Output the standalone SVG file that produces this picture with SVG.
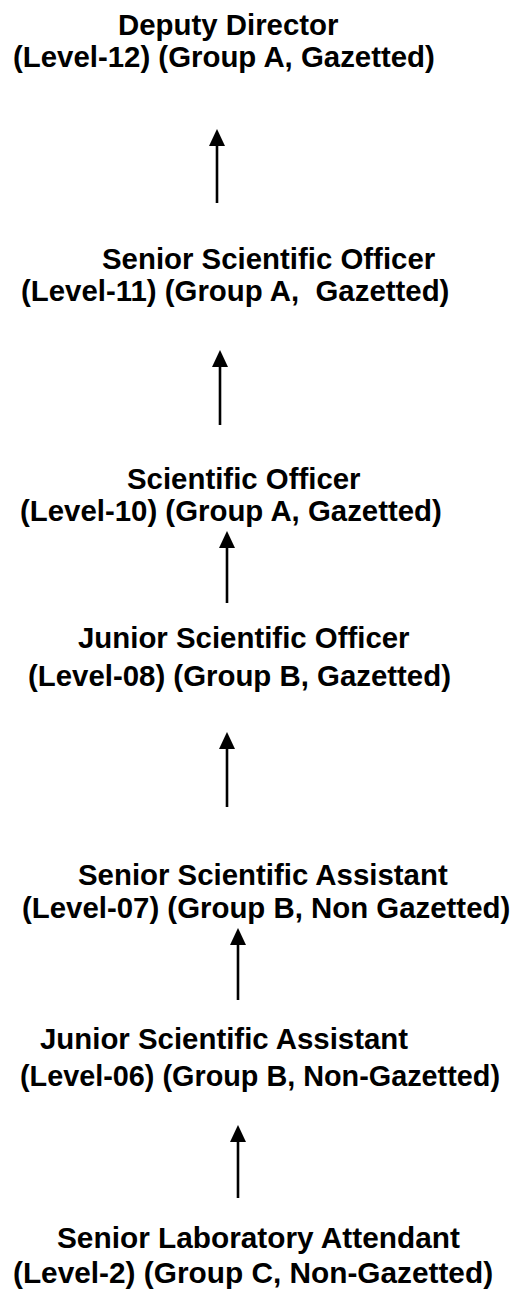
<svg xmlns="http://www.w3.org/2000/svg" width="513" height="1299" viewBox="0 0 513 1299">
<style>
text{font-family:"Liberation Sans",Arial,sans-serif;font-weight:bold;font-size:29.4px;fill:#000;white-space:pre}
.ln{stroke:#000;stroke-width:2.6;fill:none}
.hd{fill:#000}
</style>
<rect width="513" height="1299" fill="#fff"/>
<g id="n1"><text x="118" y="35">Deputy Director</text><text x="13" y="67">(Level-12) (Group A, Gazetted)</text></g>
<g id="n2"><text x="102" y="269">Senior Scientific Officer</text><text x="21" y="301">(Level-11) (Group A,  Gazetted)</text></g>
<g id="n3"><text x="127" y="489">Scientific Officer</text><text x="20" y="521">(Level-10) (Group A, Gazetted)</text></g>
<g id="n4"><text x="78" y="648">Junior Scientific Officer</text><text x="28" y="686">(Level-08) (Group B, Gazetted)</text></g>
<g id="n5"><text x="78" y="885">Senior Scientific Assistant</text><text x="22" y="918">(Level-07) (Group B, Non Gazetted)</text></g>
<g id="n6"><text x="40" y="1049">Junior Scientific Assistant</text><text x="20" y="1086" style="font-size:28.8px">(Level-06) (Group B, Non-Gazetted)</text></g>
<g id="n7"><text x="57" y="1248" style="font-size:29.8px">Senior Laboratory Attendant</text><text x="13" y="1283" style="font-size:29.8px">(Level-2) (Group C, Non-Gazetted)</text></g>
<g id="connectors">
<path class="ln" d="M217,203V145"/><path class="hd" d="M209,146L217,129L225,146z"/>
<path class="ln" d="M220,425V366"/><path class="hd" d="M212,367L220,350L228,367z"/>
<path class="ln" d="M227,603V547"/><path class="hd" d="M219,548L227,531L235,548z"/>
<path class="ln" d="M227,807V748"/><path class="hd" d="M219,749L227,732L235,749z"/>
<path class="ln" d="M238,1000V944"/><path class="hd" d="M230,945L238,928L246,945z"/>
<path class="ln" d="M238,1198V1141"/><path class="hd" d="M230,1142L238,1125L246,1142z"/>
</g>
</svg>
